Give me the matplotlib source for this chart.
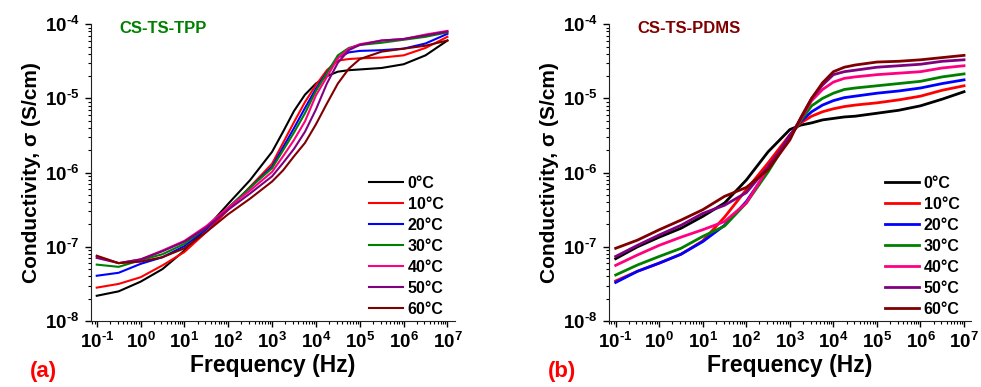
import numpy as np
import matplotlib
matplotlib.use('Agg')
import matplotlib.pyplot as plt

plt.rcParams['font.family'] = ['Liberation Sans', 'DejaVu Sans']
plt.rcParams['font.weight'] = 'bold'
plt.rcParams['mathtext.fontset'] = 'custom'
plt.rcParams['mathtext.rm'] = 'Liberation Sans:bold'
plt.rcParams['mathtext.bf'] = 'Liberation Sans:bold'
plt.rcParams['mathtext.it'] = 'Liberation Sans:bold'

# Data (log10 of conductivity in S/cm)
temps = ['0°C', '10°C', '20°C', '30°C', '40°C', '50°C', '60°C']
colors = ['#000000', '#ff0000', '#0000ff', '#008000', '#ff0080', '#800080', '#800000']

# panel (a) CS-TS-TPP
freq_a = [-1, -0.5, 0, 0.5, 1, 1.5, 2, 2.5, 3, 3.25, 3.5, 3.75, 4, 4.25, 4.5, 4.75, 5, 5.5, 6, 6.5, 7]
tpp_0 = [-7.66, -7.6, -7.47, -7.3, -7.05, -6.75, -6.42, -6.1, -5.72, -5.45, -5.17, -4.95, -4.8, -4.7, -4.64, -4.62, -4.61, -4.59, -4.54, -4.42, -4.22]
tpp_10 = [-7.55, -7.5, -7.41, -7.25, -7.07, -6.8, -6.5, -6.19, -5.88, -5.6, -5.32, -5.05, -4.82, -4.62, -4.49, -4.47, -4.46, -4.45, -4.42, -4.32, -4.17]
tpp_20 = [-7.39, -7.35, -7.23, -7.14, -6.99, -6.76, -6.48, -6.2, -5.92, -5.66, -5.4, -5.13, -4.87, -4.65, -4.45, -4.38, -4.36, -4.35, -4.33, -4.26, -4.13]
tpp_30 = [-7.24, -7.27, -7.18, -7.10, -6.96, -6.74, -6.47, -6.2, -5.94, -5.7, -5.46, -5.2, -4.9, -4.66, -4.42, -4.32, -4.28, -4.25, -4.21, -4.17, -4.11]
tpp_40 = [-7.13, -7.22, -7.17, -7.05, -6.92, -6.72, -6.47, -6.24, -5.99, -5.78, -5.56, -5.31, -4.96, -4.71, -4.46, -4.33, -4.27, -4.22, -4.2, -4.14, -4.09]
tpp_50 = [-7.15, -7.22, -7.17, -7.06, -6.93, -6.74, -6.5, -6.28, -6.05, -5.87, -5.68, -5.45, -5.15, -4.8, -4.52, -4.35, -4.28, -4.22, -4.2, -4.15, -4.1]
tpp_60 = [-7.12, -7.22, -7.2, -7.14, -7.02, -6.8, -6.56, -6.35, -6.12, -5.97, -5.78, -5.6, -5.35, -5.07, -4.8, -4.6, -4.47, -4.37, -4.33, -4.29, -4.22]

# panel (b) CS-TS-PDMS
freq_b = [-1, -0.5, 0, 0.5, 1, 1.5, 2, 2.5, 3, 3.25, 3.5, 3.75, 4, 4.25, 4.5, 5, 5.5, 6, 6.5, 7]
pdms_0 = [-7.16, -7.0, -6.87, -6.75, -6.59, -6.41, -6.1, -5.72, -5.42, -5.36, -5.33, -5.29, -5.27, -5.25, -5.24, -5.2, -5.16, -5.10, -5.01, -4.91]
pdms_10 = [-7.46, -7.33, -7.22, -7.10, -6.92, -6.6, -6.23, -5.87, -5.49, -5.33, -5.24, -5.18, -5.14, -5.11, -5.09, -5.06, -5.02, -4.97, -4.89, -4.83]
pdms_20 = [-7.48, -7.33, -7.22, -7.10, -6.93, -6.71, -6.39, -5.96, -5.5, -5.31, -5.18, -5.09, -5.03, -4.99, -4.97, -4.93, -4.90, -4.86, -4.8, -4.75]
pdms_30 = [-7.38, -7.245, -7.13, -7.02, -6.86, -6.72, -6.41, -5.99, -5.52, -5.3, -5.1, -5.0, -4.93, -4.88, -4.86, -4.83, -4.80, -4.77, -4.71, -4.67]
pdms_40 = [-7.25, -7.11, -6.98, -6.87, -6.77, -6.66, -6.41, -5.94, -5.52, -5.28, -5.03, -4.88, -4.78, -4.73, -4.71, -4.68, -4.66, -4.64, -4.59, -4.56]
pdms_50 = [-7.13, -6.98, -6.84, -6.71, -6.55, -6.44, -6.27, -5.92, -5.52, -5.27, -5.0, -4.82, -4.68, -4.64, -4.62, -4.58, -4.56, -4.54, -4.5, -4.48]
pdms_60 = [-7.02, -6.91, -6.77, -6.64, -6.5, -6.32, -6.2, -5.96, -5.56, -5.26, -5.0, -4.79, -4.64, -4.58, -4.55, -4.51, -4.5, -4.48, -4.45, -4.42]

xtick_exp = [-1, 0, 1, 2, 3, 4, 5, 6, 7]
ytick_exp = [-8, -7, -6, -5, -4]


def pow_label(e):
    if e < 0:
        return r'$10^{\text{-}%d}$' % (-e)
    return r'$10^{%d}$' % e


panels = [
    dict(freq=freq_a, series=[tpp_0, tpp_10, tpp_20, tpp_30, tpp_40, tpp_50, tpp_60], lw=1.5,
         rect=[0.0925, 0.1705, 0.371, 0.767], xlim=(-1.137, 7.166),
         name='CS-TS-TPP', name_color='#008000', tag='(a)', tag_x=0.030),
    dict(freq=freq_b, series=[pdms_0, pdms_10, pdms_20, pdms_30, pdms_40, pdms_50, pdms_60], lw=2.0,
         rect=[0.6205, 0.1705, 0.369, 0.767], xlim=(-1.16, 7.153),
         name='CS-TS-PDMS', name_color='#800000', tag='(b)', tag_x=0.558),
]

fig = plt.figure(figsize=(9.81, 3.87), dpi=100)

for p in panels:
    ax = fig.add_axes(p['rect'])
    f = 10.0 ** np.array(p['freq'])
    for vals, lab, c in zip(p['series'], temps, colors):
        ax.plot(f, 10.0 ** np.array(vals), color=c, lw=p['lw'], label=lab)
    ax.set_xscale('log')
    ax.set_yscale('log')
    ax.set_xlim(10 ** p['xlim'][0], 10 ** p['xlim'][1])
    ax.set_ylim(1e-8, 1e-4)
    ax.set_xticks([10.0 ** e for e in xtick_exp])
    ax.set_xticklabels([pow_label(e) for e in xtick_exp])
    ax.set_yticks([10.0 ** e for e in ytick_exp])
    ax.set_yticklabels([pow_label(e) for e in ytick_exp])
    ax.xaxis.set_minor_locator(matplotlib.ticker.LogLocator(base=10, subs=np.arange(2, 10), numticks=20))
    ax.yaxis.set_minor_locator(matplotlib.ticker.LogLocator(base=10, subs=np.arange(2, 10), numticks=20))
    ax.xaxis.set_minor_formatter(matplotlib.ticker.NullFormatter())
    ax.yaxis.set_minor_formatter(matplotlib.ticker.NullFormatter())
    ax.tick_params(which='major', direction='out', length=4, width=1, pad=4)
    ax.tick_params(axis='x', which='major', labelsize=13.5)
    ax.tick_params(axis='y', which='major', labelsize=13.5)
    ax.tick_params(which='minor', direction='out', length=2.5, width=0.8)
    ax.spines['top'].set_visible(False)
    ax.spines['right'].set_visible(False)
    for s in ['left', 'bottom']:
        ax.spines[s].set_color('#222222')
    ax.set_xlabel('Frequency (Hz)', fontsize=16.5, fontweight='bold', labelpad=1)
    ax.set_ylabel('Conductivity, σ (S/cm)', fontsize=15, fontweight='bold', labelpad=3)
    ax.text(0.08, 0.985, p['name'], transform=ax.transAxes, color=p['name_color'],
            fontsize=12, fontweight='bold', va='center', ha='left')
    fig.text(p['tag_x'], 0.039, p['tag'], color='#ff0000', fontsize=16, fontweight='bold',
             va='center', ha='left')
    ax.legend(loc='lower right', bbox_to_anchor=(1.0, -0.024), frameon=False, fontsize=11.5,
              handlelength=2.1, handletextpad=0.3, labelspacing=0.38, borderaxespad=0.3)

fig.savefig('out.png', dpi=100, facecolor='white')
